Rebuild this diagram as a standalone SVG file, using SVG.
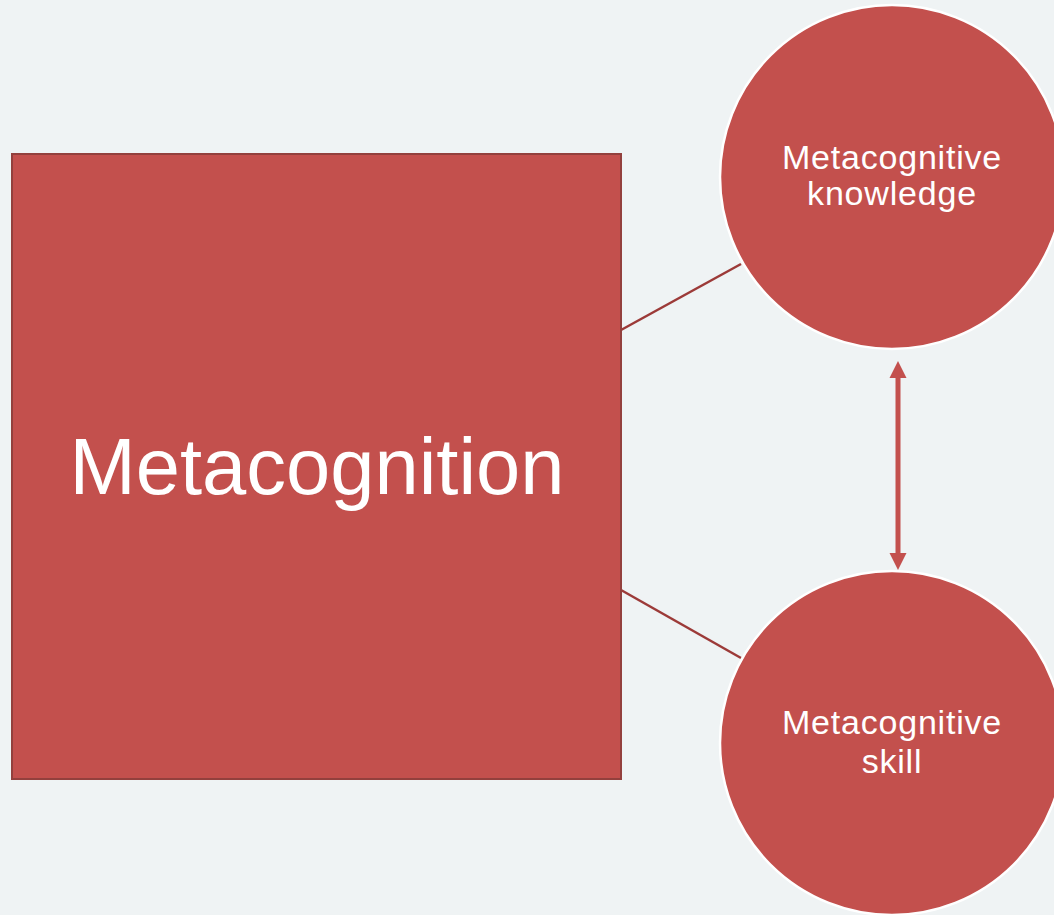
<svg xmlns="http://www.w3.org/2000/svg" width="1054" height="915" viewBox="0 0 1054 915">
  <style>
    .node { fill: #c3504d; }
    .circle { stroke: #ffffff; stroke-width: 2.5; }
    .rect { stroke: #93403d; stroke-width: 2; }
    .label { fill: #ffffff; font-family: "Liberation Sans", Arial, Helvetica, sans-serif; text-anchor: middle; }
    .small { font-size: 34px; letter-spacing: 0.8px; }
    .big { font-size: 79.5px; }
    .conn { stroke: #9c3a38; stroke-width: 2.5; fill: none; }
    .arrow { stroke: #c3504d; stroke-width: 5; fill: none; }
  </style>
  <rect width="1054" height="915" fill="#eff3f4"/>
  <g id="connectors">
    <line class="conn" x1="621" y1="330" x2="741" y2="264"/>
    <line class="conn" x1="621" y1="590" x2="741" y2="658"/>
    <line class="arrow" x1="898" y1="377" x2="898" y2="554"/>
    <path d="M898,361 L906.5,378 L889.5,378 Z" fill="#c3504d"/>
    <path d="M898,570 L906.5,553 L889.5,553 Z" fill="#c3504d"/>
  </g>
  <g id="metacognition">
    <rect class="node rect" x="12" y="154" width="609" height="625"/>
    <text class="label big" x="317" y="494">Metacognition</text>
  </g>
  <g id="knowledge">
    <circle class="node circle" cx="892" cy="177" r="172"/>
    <text class="label small" x="892" y="169">Metacognitive</text>
    <text class="label small" x="892" y="205">knowledge</text>
  </g>
  <g id="skill">
    <circle class="node circle" cx="892" cy="743" r="172"/>
    <text class="label small" x="892" y="734">Metacognitive</text>
    <text class="label small" x="892" y="773">skill</text>
  </g>
</svg>
